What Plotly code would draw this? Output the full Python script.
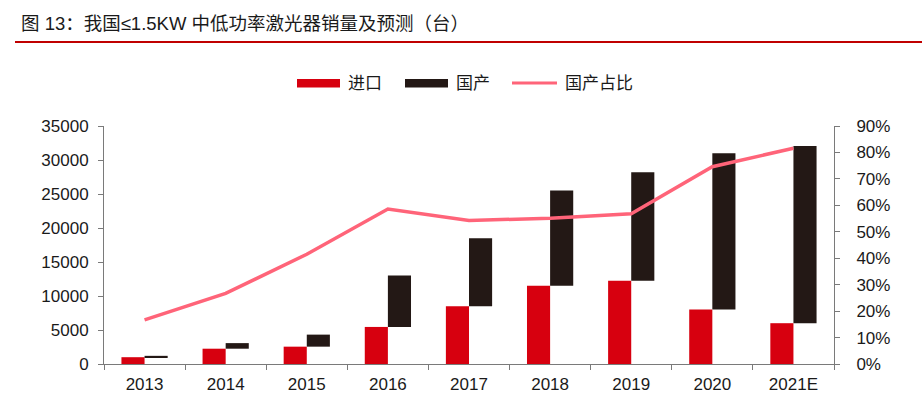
import plotly.graph_objects as go

years = ["2013", "2014", "2015", "2016", "2017", "2018", "2019", "2020", "2021E"]
imports = [1000, 2250, 2550, 5450, 8500, 11500, 12250, 8000, 6000]
domestic = [200, 820, 1770, 7550, 10000, 14000, 15950, 23000, 26050]
share = [0.167, 0.267, 0.415, 0.586, 0.543, 0.551, 0.568, 0.746, 0.816]

W, H = 922, 399
L, R, T, B = 104, 834, 126, 364
FONT = "Liberation Sans, Arial, Noto Sans CJK SC, sans-serif"
RED = "#D7000F"
BLACK = "#231815"
PINK = "#FF6479"
AXC = "#7a7a7a"

def px(x):
    return (x - L) / (R - L)

def py(y):
    return (B - y) / (B - T)

fig = go.Figure()
fig.add_trace(go.Bar(x=years, y=imports, name="进口", marker_color=RED,
                     marker_line_width=0, showlegend=False))
fig.add_trace(go.Bar(x=years, y=domestic, base=imports, name="国产", marker_color=BLACK,
                     marker_line_width=0, showlegend=False))
fig.add_trace(go.Scatter(x=years, y=share, name="国产占比", mode="lines",
                         line=dict(color=PINK, width=3.5), yaxis="y2", showlegend=False))

shapes = [
    dict(type="line", xref="paper", yref="paper", x0=px(15), x1=px(922), y0=py(42), y1=py(42),
         line=dict(color="#C00000", width=2)),
    dict(type="rect", xref="paper", yref="paper", x0=px(297), x1=px(340), y0=py(87.5), y1=py(79),
         fillcolor=RED, line_width=0),
    dict(type="rect", xref="paper", yref="paper", x0=px(405), x1=px(448), y0=py(87.5), y1=py(79),
         fillcolor=BLACK, line_width=0),
    dict(type="line", xref="paper", yref="paper", x0=px(512), x1=px(557), y0=py(83), y1=py(83),
         line=dict(color=PINK, width=3)),
]

annotations = [
    dict(text="图 13：我国≤1.5KW 中低功率激光器销量及预测（台）", xref="paper", yref="paper",
         x=px(19), y=py(23), xanchor="left", yanchor="middle", showarrow=False,
         font=dict(family=FONT, size=18.5, color="#1a1a1a")),
    dict(text="进口", xref="paper", yref="paper", x=px(346), y=py(83), xanchor="left",
         yanchor="middle", showarrow=False, font=dict(family=FONT, size=17, color="#1a1a1a")),
    dict(text="国产", xref="paper", yref="paper", x=px(454), y=py(83), xanchor="left",
         yanchor="middle", showarrow=False, font=dict(family=FONT, size=17, color="#1a1a1a")),
    dict(text="国产占比", xref="paper", yref="paper", x=px(563), y=py(83), xanchor="left",
         yanchor="middle", showarrow=False, font=dict(family=FONT, size=17, color="#1a1a1a")),
]

fig.update_layout(
    width=W, height=H,
    margin=dict(l=L, r=W - R, t=T, b=H - B, pad=0, autoexpand=False),
    paper_bgcolor="white", plot_bgcolor="white",
    barmode="group", bargap=0.43, bargroupgap=0,
    font=dict(family=FONT, size=17, color="#1a1a1a"),
    shapes=shapes, annotations=annotations,
    xaxis=dict(type="category", range=[-0.5, 8.5], tickson="boundaries", ticks="outside",
               ticklen=5, tickcolor=AXC, showline=True, linecolor=AXC, linewidth=1,
               showgrid=False, zeroline=False, ticklabelstandoff=5, automargin=False,
               tickfont=dict(size=17)),
    yaxis=dict(range=[0, 35000], dtick=5000, tickformat="d", ticks="outside", ticklen=5,
               tickcolor=AXC, showline=True, linecolor=AXC, linewidth=1, showgrid=False,
               zeroline=False, ticklabelstandoff=6, automargin=False, tickfont=dict(size=17)),
    yaxis2=dict(range=[0, 0.9], dtick=0.1, tickformat=".0%", overlaying="y", side="right",
                ticks="outside", ticklen=5, tickcolor=AXC, showline=True, linecolor=AXC,
                linewidth=1, showgrid=False, zeroline=False, ticklabelstandoff=13,
                automargin=False, tickfont=dict(size=17)),
)

fig.write_html("out.html", config={"displayModeBar": False},
               post_script="document.body.style.margin='0';")
